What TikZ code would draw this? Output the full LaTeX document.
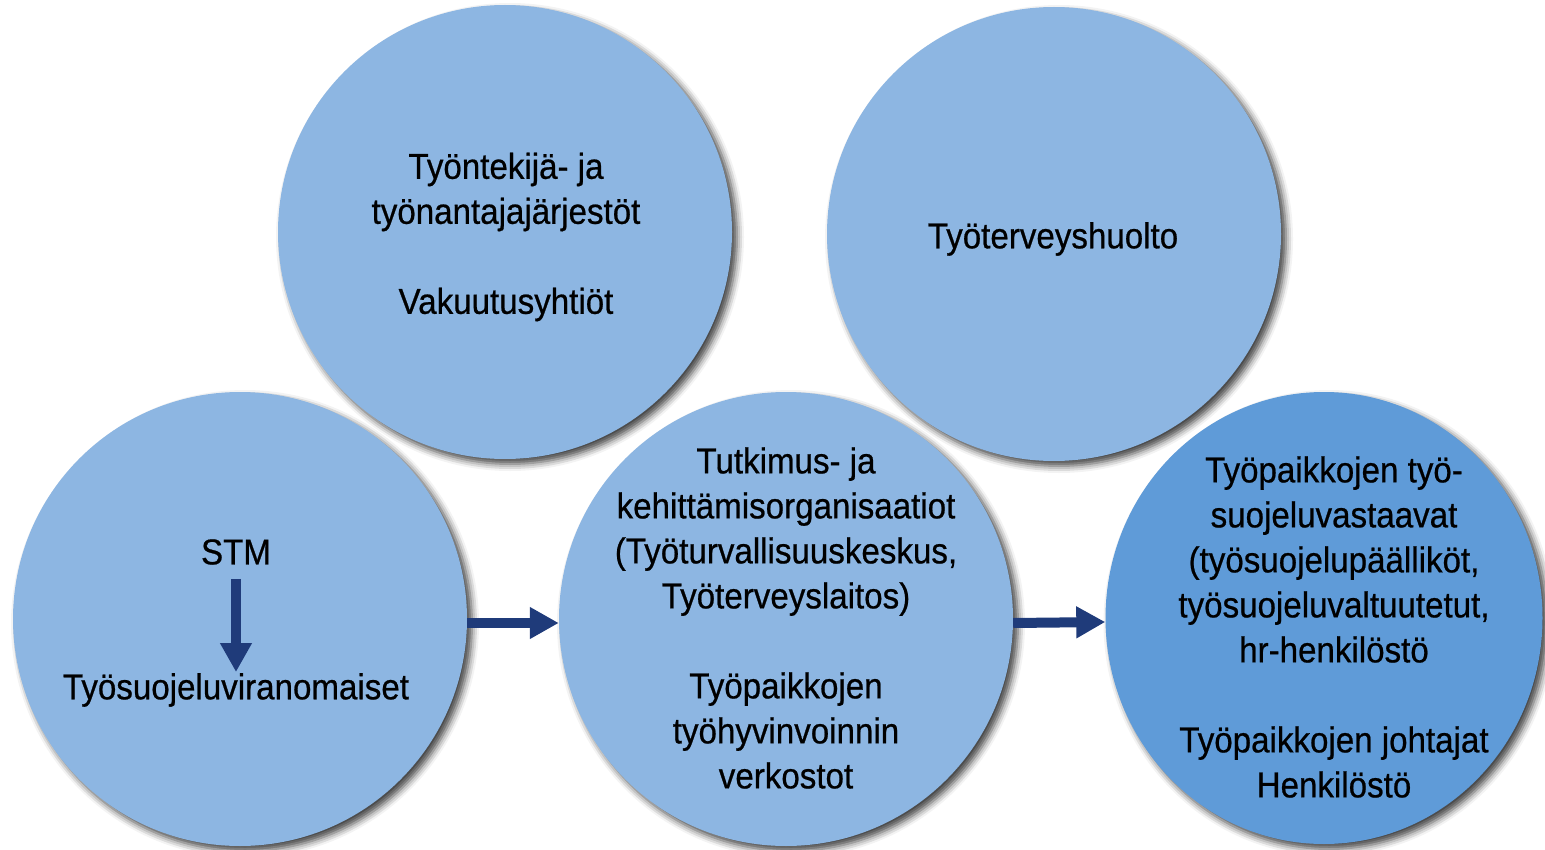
\documentclass[tikz,border=0pt]{standalone}
\usepackage{fontspec}
\setmainfont{Liberation Sans}[FakeStretch=0.92,FakeBold=0.6]
\usetikzlibrary{arrows.meta,shadows.blur,shapes.geometric}
\definecolor{circlight}{RGB}{141,182,226}
\definecolor{circdark}{RGB}{95,155,216}
\definecolor{arrownavy}{RGB}{31,59,122}
\begin{document}
\begin{tikzpicture}[x=1pt,y=-1pt,
  bubble/.style={ellipse, fill=circlight, minimum width=454pt, minimum height=454pt, inner sep=0pt,
    blur shadow={shadow xshift=5pt, shadow yshift=-5pt, shadow blur radius=7pt, shadow opacity=75}},
  txt/.style={align=center, font=\fontsize{36}{45}\selectfont, inner sep=0pt, text=black},
  flow/.style={draw=arrownavy, line width=10pt, -{Triangle[width=30pt,length=29pt]}}]
\useasboundingbox (0,0) rectangle (1545,850);
\node[bubble] (c1) at (505,232) {};
\node[bubble] (c2) at (1054,234) {};
\node[bubble] (c3) at (240,619) {};
\node[bubble] (c4) at (786,619) {};
\node[bubble, fill=circdark, minimum width=437pt, minimum height=452pt] (c5) at (1324,618) {};

\node[txt] (t1) at (506,237) {Työntekijä- ja\\työnantajajärjestöt\\[45pt]Vakuutusyhtiöt};
\node[txt] (t2) at (1053,239) {Työterveyshuolto};
\node[txt] (stm) at (236,552) {STM};
\node[txt] (tsv) at (236,690) {Työsuojeluviranomaiset};
\node[txt] (t4) at (786,618) {Tutkimus- ja\\kehittämisorganisaatiot\\(Työturvallisuuskeskus,\\Työterveyslaitos)\\[45pt]Työpaikkojen\\työhyvinvoinnin\\verkostot};
\node[txt] (t5) at (1334,627) {Työpaikkojen työ-\\suojeluvastaavat\\(työsuojelupäälliköt,\\työsuojeluvaltuutetut,\\hr-henkilöstö\\[45pt]Työpaikkojen johtajat\\Henkilöstö};

\draw[flow] ([yshift=-14pt]stm.south) -- ([yshift=1pt]tsv.north);
\draw[flow] ([yshift=-4pt]c3.east) -- ([yshift=-4pt]c4.west);
\draw[flow] ([yshift=-4pt]c4.east) -- ([yshift=-4pt]c5.west);
\end{tikzpicture}
\end{document}
